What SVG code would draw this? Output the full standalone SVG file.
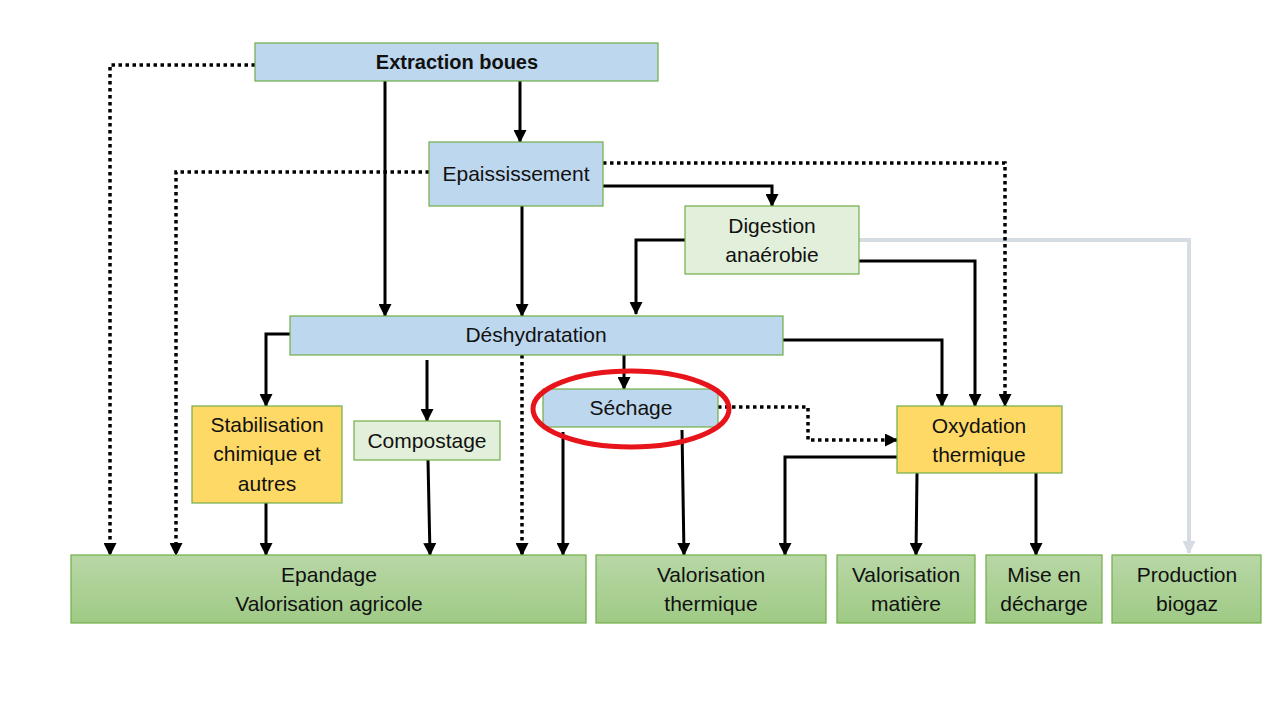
<svg xmlns="http://www.w3.org/2000/svg" width="1280" height="720" viewBox="0 0 1280 720">
<style>
.box{stroke:#70AD47;stroke-width:1.2}
.blue{fill:#BDD7EE}.lg{fill:#E2EFDA}.yel{fill:#FFD966}.grn{fill:url(#g)}
text{font-family:"Liberation Sans",Arial,sans-serif;font-size:21px;fill:#111;text-anchor:middle}
.b{font-weight:bold;font-size:20px}
.c{fill:none;stroke:#000;stroke-width:3}
.d{fill:none;stroke:#000;stroke-width:3.5;stroke-dasharray:3.5 3.5}
.gray{fill:none;stroke:#D6DCE4;stroke-width:4}
</style>
<defs>
<linearGradient id="g" x1="0" y1="0" x2="0" y2="1"><stop offset="0" stop-color="#B8D7A6"/><stop offset="1" stop-color="#9FCA85"/></linearGradient>
<marker id="a" markerUnits="userSpaceOnUse" markerWidth="13" markerHeight="13" viewBox="0 0 13 13" refX="12" refY="6.5" orient="auto"><path d="M0,0 L13,6.5 L0,13 Z" fill="#000"/></marker>
<marker id="ag" markerUnits="userSpaceOnUse" markerWidth="13" markerHeight="13" viewBox="0 0 13 13" refX="12" refY="6.5" orient="auto"><path d="M0,0 L13,6.5 L0,13 Z" fill="#D6DCE4"/></marker>
</defs>
<rect width="1280" height="720" fill="#fff"/>
<g id="connectors">
<path class="gray" d="M859,240 H1189 V553" marker-end="url(#ag)"/>
<path class="d" d="M255,65 H110 V555" marker-end="url(#a)"/>
<path class="c" d="M520,81 V142" marker-end="url(#a)"/>
<path class="c" d="M385,81 V316" marker-end="url(#a)"/>
<path class="d" d="M429,172 H176 V555" marker-end="url(#a)"/>
<path class="d" d="M603,163 H1005 V406" marker-end="url(#a)"/>
<path class="c" d="M603,186 H772 V206" marker-end="url(#a)"/>
<path class="c" d="M522,206 V316" marker-end="url(#a)"/>
<path class="c" d="M685,240 H636 V314" marker-end="url(#a)"/>
<path class="c" d="M859,261 H975 V406" marker-end="url(#a)"/>
<path class="c" d="M783,340 H942 V406" marker-end="url(#a)"/>
<path class="c" d="M290,334 H266 V406" marker-end="url(#a)"/>
<path class="c" d="M427,360 V421" marker-end="url(#a)"/>
<path class="d" d="M522,355 V555" marker-end="url(#a)"/>
<path class="c" d="M624,355 V389" marker-end="url(#a)"/>
<path class="c" d="M563,432 V555" marker-end="url(#a)"/>
<path class="c" d="M682,430 L684,555" marker-end="url(#a)"/>
<path class="d" d="M718,407 H808 V440 H897" marker-end="url(#a)"/>
<path class="c" d="M897,457 H785 V555" marker-end="url(#a)"/>
<path class="c" d="M917,473 L916,555" marker-end="url(#a)"/>
<path class="c" d="M1036,473 V555" marker-end="url(#a)"/>
<path class="c" d="M266,503 V555" marker-end="url(#a)"/>
<path class="c" d="M428,460 L430,555" marker-end="url(#a)"/>
</g>
<g id="extraction"><rect class="box blue" x="255" y="43" width="403" height="38"/><text class="b" x="457" y="69">Extraction boues</text></g>
<g id="epaississement"><rect class="box blue" x="429" y="142" width="174" height="64"/><text x="516" y="181">Epaississement</text></g>
<g id="digestion"><rect class="box lg" x="685" y="206" width="174" height="68"/><text x="772" y="233">Digestion</text><text x="772" y="262">anaérobie</text></g>
<g id="deshydratation"><rect class="box blue" x="290" y="316" width="493" height="39"/><text x="536" y="342">Déshydratation</text></g>
<g id="stabilisation"><rect class="box yel" x="192" y="406" width="150" height="97"/><text x="267" y="432">Stabilisation</text><text x="267" y="461">chimique et</text><text x="267" y="491">autres</text></g>
<g id="compostage"><rect class="box lg" x="354" y="421" width="146" height="39"/><text x="427" y="448">Compostage</text></g>
<g id="sechage"><rect class="box blue" x="543" y="389" width="175" height="38"/><text x="631" y="415">Séchage</text><ellipse cx="631" cy="409" rx="98" ry="38" fill="none" stroke="#E8141B" stroke-width="5"/></g>
<g id="oxydation"><rect class="box yel" x="897" y="406" width="165" height="67"/><text x="979" y="433">Oxydation</text><text x="979" y="462">thermique</text></g>
<g id="epandage"><rect class="box grn" x="71" y="555" width="515" height="68"/><text x="329" y="582">Epandage</text><text x="329" y="611">Valorisation agricole</text></g>
<g id="valo-thermique"><rect class="box grn" x="596" y="555" width="230" height="68"/><text x="711" y="582">Valorisation</text><text x="711" y="611">thermique</text></g>
<g id="valo-matiere"><rect class="box grn" x="837" y="555" width="138" height="68"/><text x="906" y="582">Valorisation</text><text x="906" y="611">matière</text></g>
<g id="decharge"><rect class="box grn" x="986" y="555" width="116" height="68"/><text x="1044" y="582">Mise en</text><text x="1044" y="611">décharge</text></g>
<g id="biogaz"><rect class="box grn" x="1112" y="555" width="149" height="68"/><text x="1187" y="582">Production</text><text x="1187" y="611">biogaz</text></g>
</svg>
